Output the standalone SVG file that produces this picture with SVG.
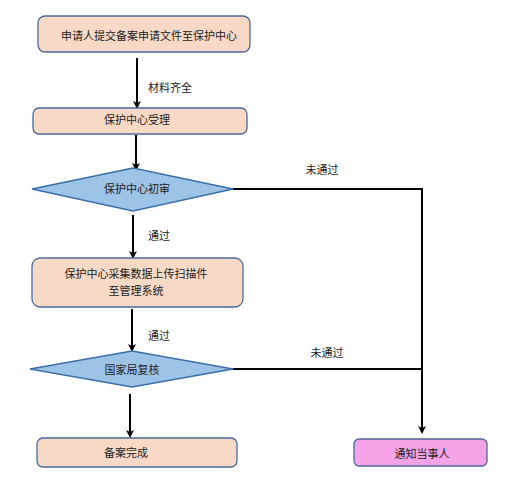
<svg xmlns="http://www.w3.org/2000/svg" width="515" height="501" viewBox="0 0 515 501">
<defs>
<style>
.box{fill:#f8d9c6;stroke:#4a6a9c;stroke-width:1.3}
.dia{fill:#9dc3e6;stroke:#3a6fa8;stroke-width:1.3}
.pink{fill:#f5a3e6;stroke:#4a6a9c;stroke-width:1.3}
.t{font-family:"Noto Sans CJK SC","Noto Sans",sans-serif;font-size:11px;fill:#222;text-anchor:middle;dominant-baseline:central}
.lbl{font-family:"Noto Sans CJK SC","Noto Sans",sans-serif;font-size:11px;fill:#222;dominant-baseline:central}
.c{fill:none;stroke:#000;stroke-width:2}
</style>
<marker id="ah" markerWidth="8" markerHeight="8" refX="4" refY="4" orient="auto" markerUnits="userSpaceOnUse">
<path d="M0,0 L8,4 L0,8 L2,4 Z" fill="#000"/>
</marker>
</defs>
<rect width="515" height="501" fill="#fff"/>
<g id="connectors">
<line class="c" x1="137" y1="58" x2="137" y2="105" marker-end="url(#ah)"/>
<text class="lbl" x="148" y="87">材料齐全</text>
<line class="c" x1="136" y1="135" x2="136" y2="167" marker-end="url(#ah)"/>
<line class="c" x1="133" y1="215" x2="133" y2="255" marker-end="url(#ah)"/>
<text class="lbl" x="148" y="235">通过</text>
<line class="c" x1="132" y1="309" x2="132" y2="348" marker-end="url(#ah)"/>
<text class="lbl" x="148" y="335">通过</text>
<line class="c" x1="130" y1="394" x2="130" y2="434" marker-end="url(#ah)"/>
<polyline class="c" points="233,189 422,189 422,430" marker-end="url(#ah)"/>
<line class="c" x1="233" y1="369" x2="422" y2="369"/>
<text class="t" x="322" y="169">未通过</text>
<text class="t" x="327" y="352">未通过</text>
</g>
<g id="n1">
<rect class="box" x="38" y="16" width="212" height="36" rx="7"/>
<text class="t" x="149" y="35">申请人提交备案申请文件至保护中心</text>
</g>
<g id="n2">
<rect class="box" x="33" y="108" width="214" height="26" rx="6"/>
<text class="t" x="137" y="119">保护中心受理</text>
</g>
<g id="n3">
<polygon class="dia" points="32,189 133,168 233,189 133,211"/>
<text class="t" x="137" y="188">保护中心初审</text>
</g>
<g id="n4">
<rect class="box" x="32" y="258" width="211" height="49" rx="8"/>
<text class="t" x="136" y="273">保护中心采集数据上传扫描件</text>
<text class="t" x="136" y="290">至管理系统</text>
</g>
<g id="n5">
<polygon class="dia" points="30,369 132,351 233,369 132,387"/>
<text class="t" x="132" y="369">国家局复核</text>
</g>
<g id="n6">
<rect class="box" x="37" y="438" width="200" height="29" rx="6"/>
<text class="t" x="126" y="452">备案完成</text>
</g>
<g id="n7">
<rect class="pink" x="354" y="439" width="133" height="27" rx="5"/>
<text class="t" x="422" y="453">通知当事人</text>
</g>
</svg>
